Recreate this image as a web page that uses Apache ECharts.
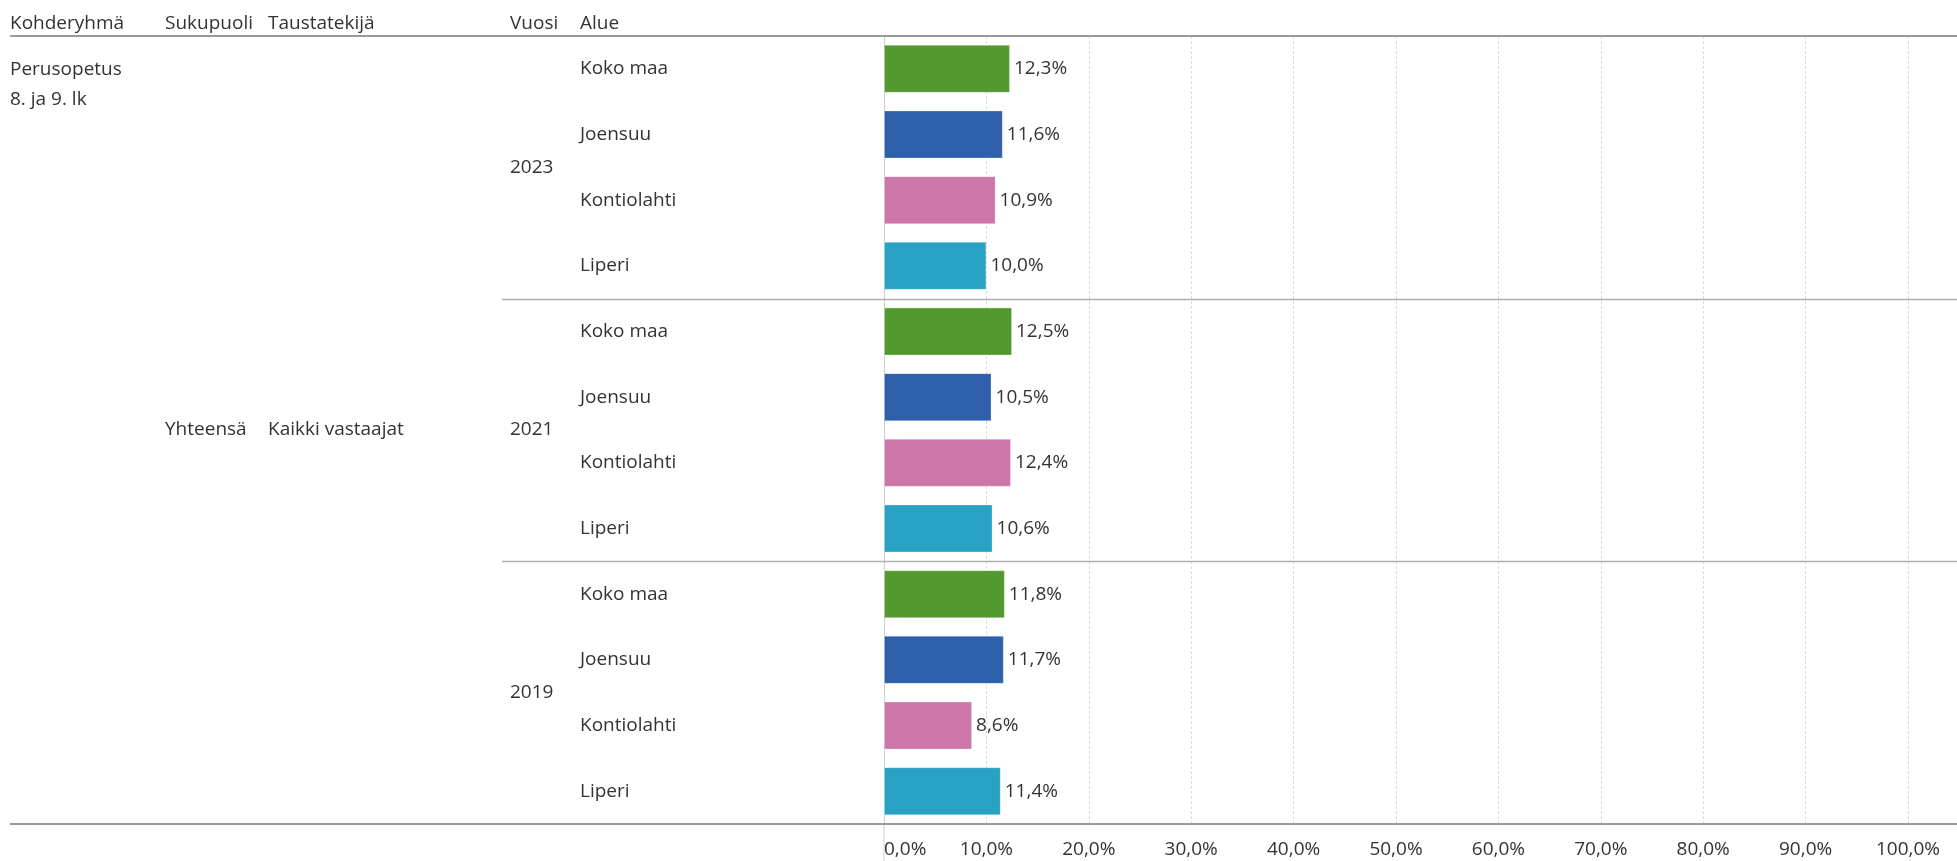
<!DOCTYPE html>
<html><head><meta charset="utf-8">
<script src="https://cdn.jsdelivr.net/npm/echarts@6/dist/echarts.min.js"></script>
<style>html,body{margin:0;padding:0;background:#fff;}#c{width:1957px;height:861px;}</style>
</head><body><div id="c"></div>
<script>
const regions = ['Koko maa', 'Joensuu', 'Kontiolahti', 'Liperi'];
const years = ['2023', '2021', '2019'];
const values2023 = [12.3, 11.6, 10.9, 10.0];
const values2021 = [12.5, 10.5, 12.4, 10.6];
const values2019 = [11.8, 11.7, 8.6, 11.4];
const xTicks = [0, 10, 20, 30, 40, 50, 60, 70, 80, 90, 100];
const headers = ['Kohderyhmä', 'Sukupuoli', 'Taustatekijä', 'Vuosi', 'Alue'];
const targetGroup = ['Perusopetus', '8. ja 9. lk'];
const gender = ['Yhteensä'];
const background = ['Kaikki vastaajat'];

const regionColors = ['#54992f', '#2e5faa', '#cc76a9', '#29a1c3'];
const FONT = '"Open Sans", "Noto Sans", sans-serif';
const FS = 19;
const TXT = '#333';

const valuesByYear = [values2023, values2021, values2019];
const cats = [];
const barData = [];
years.forEach((y, yi) => {
  regions.forEach((r, ri) => {
    cats.push(y + '|' + r);
    barData.push({ value: valuesByYear[yi][ri], itemStyle: { color: regionColors[ri] } });
  });
});

const fmt = v => v.toFixed(1).replace('.', ',') + '%';

const chart = echarts.init(document.getElementById('c'));
const gridLeft = 884, gridTop = 36, gridRight = 49, gridBottom = 37;

function catAxis(data, margin, extra) {
  return Object.assign({
    type: 'category', data: data, inverse: true, position: 'left',
    axisLine: { show: false }, axisTick: { show: false }, splitLine: { show: false },
    axisLabel: { align: 'left', margin: margin, color: TXT, fontSize: FS, fontFamily: FONT, interval: 0 }
  }, extra || {});
}

chart.setOption({
  animation: false,
  textStyle: { fontFamily: FONT },
  grid: { left: gridLeft, right: gridRight, top: gridTop, bottom: gridBottom, containLabel: false },
  xAxis: {
    type: 'value', min: xTicks[0], max: xTicks[xTicks.length - 1], interval: xTicks[1] - xTicks[0],
    axisLine: { show: false }, axisTick: { show: false },
    splitLine: { show: true, lineStyle: { color: '#dcdcdc', type: [3, 2], width: 1 } },
    axisLabel: { color: TXT, fontSize: FS, fontFamily: FONT, margin: 16, alignMinLabel: 'left', formatter: v => fmt(v) }
  },
  yAxis: [
    catAxis(cats, gridLeft - 580, {
      axisLine: { show: true, lineStyle: { color: '#cfcfcf', width: 1 } },
      axisLabel: { align: 'left', margin: gridLeft - 580, color: TXT, fontSize: FS, fontFamily: FONT, interval: 0,
        formatter: v => v.split('|')[1] }
    }),
    catAxis(years, gridLeft - 510),
    catAxis(gender, gridLeft - 165),
    catAxis(background, gridLeft - 268)
  ],
  series: [{
    type: 'bar', yAxisIndex: 0, data: barData, barCategoryGap: '27%',
    itemStyle: { borderColor: 'rgba(255,255,255,0.25)', borderWidth: 1 },
    label: { show: true, position: 'right', distance: 4, color: TXT, fontSize: FS, fontFamily: FONT,
      formatter: p => fmt(p.value) }
  }]
});

// structural rules and header texts, positioned from the axes
const W = chart.getWidth();
const grid = chart.getModel().getComponent('grid', 0).coordinateSystem.getRect();
const groupH = grid.height / years.length;
const x0 = chart.convertToPixel({ xAxisIndex: 0 }, 0);
const gfx = [];
gfx.push({ type: 'line', shape: { x1: 10, y1: grid.y, x2: W, y2: grid.y }, style: { stroke: '#9a9a9a', lineWidth: 2 }, z: 10 });
gfx.push({ type: 'line', shape: { x1: 10, y1: grid.y + grid.height, x2: W, y2: grid.y + grid.height }, style: { stroke: '#9a9a9a', lineWidth: 2 }, z: 10 });
for (let i = 1; i < years.length; i++) {
  const yy = Math.round(grid.y + groupH * i) + 0.5;
  gfx.push({ type: 'line', shape: { x1: 502, y1: yy, x2: W, y2: yy }, style: { stroke: '#b0b0b0', lineWidth: 1.5 }, z: 10 });
}
gfx.push({ type: 'line', shape: { x1: x0, y1: grid.y + grid.height, x2: x0, y2: chart.getHeight() }, style: { stroke: '#cfcfcf', lineWidth: 1 } });
const headerX = [10, 165, 268, 510, 580];
headers.forEach((h, i) => {
  gfx.push({ type: 'text', x: headerX[i], y: 24, style: { text: h, fill: TXT, font: FS + 'px ' + FONT, textVerticalAlign: 'middle', verticalAlign: 'middle' } });
});
gfx.push({ type: 'text', x: 10, y: 55, style: { text: targetGroup.join('\n'), fill: TXT, font: FS + 'px ' + FONT, lineHeight: 30 } });
chart.setOption({ graphic: gfx });
</script></body></html>
